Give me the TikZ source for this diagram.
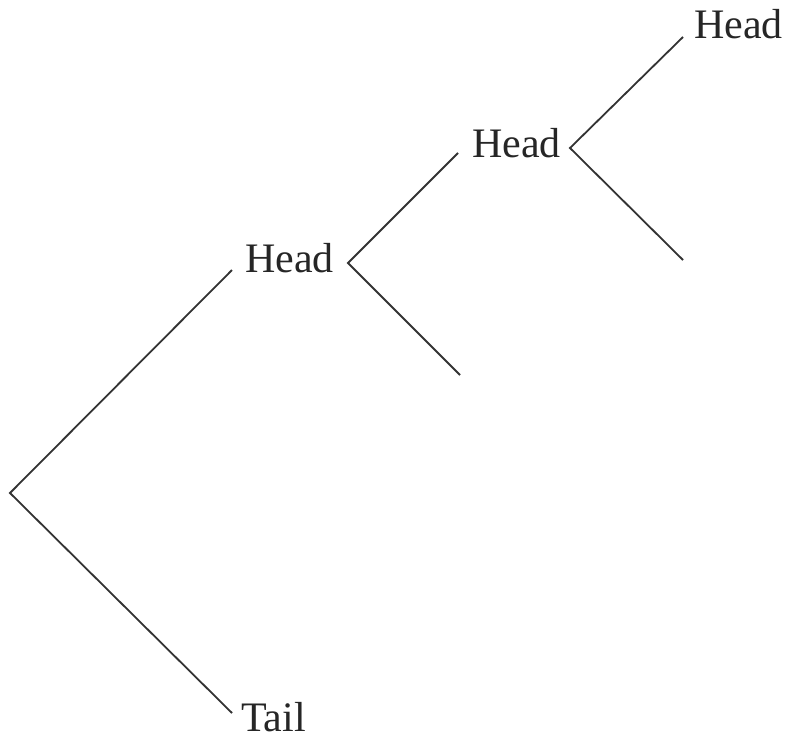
\documentclass[tikz,border=0pt]{standalone}
\usepackage{fontspec}
\setmainfont{Liberation Serif}
\begin{document}
\begin{tikzpicture}[x=1pt,y=-1pt,
  branch/.style={line width=1.8pt,draw=black!80},
  lbl/.style={anchor=base west,inner sep=0pt,font=\fontsize{42}{42}\selectfont,text=black!85}]
\useasboundingbox (0,0) rectangle (787,742);
\coordinate (root) at (10,493);
\coordinate (h1end) at (232,270);
\coordinate (tailend) at (232,713);
\coordinate (v1) at (348,263);
\coordinate (h2end) at (458,153);
\coordinate (d1) at (460,375);
\coordinate (v2) at (570,148);
\coordinate (h3end) at (683,37);
\coordinate (d2) at (683,260);
\node[lbl] (head1) at (245,272) {Head};
\node[lbl] (tail) at (241,731) {Tail};
\node[lbl] (head2) at (472,157) {Head};
\node[lbl] (head3) at (694,38) {Head};
\draw[branch] (h1end) -- (root) -- (tailend);
\draw[branch] (h2end) -- (v1) -- (d1);
\draw[branch] (h3end) -- (v2) -- (d2);
\end{tikzpicture}
\end{document}
